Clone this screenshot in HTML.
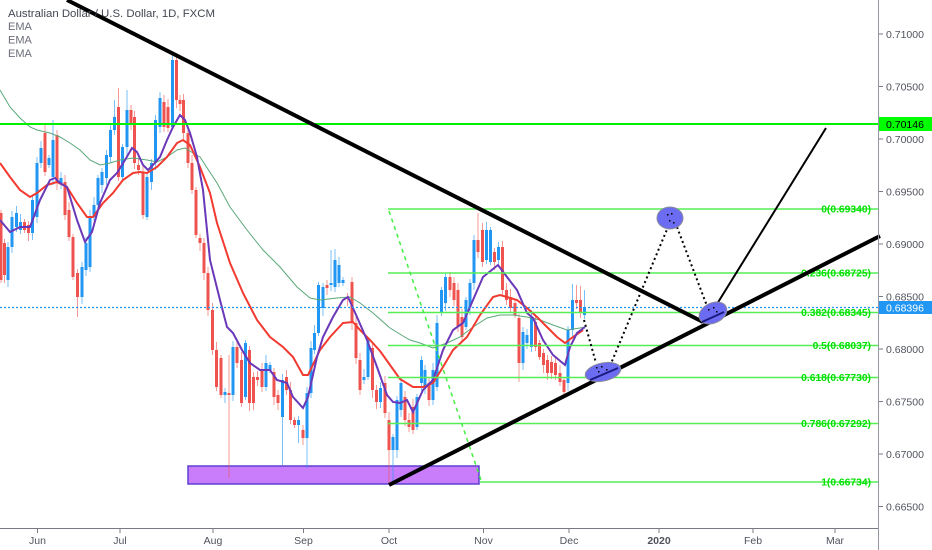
<!DOCTYPE html>
<html><head><meta charset="utf-8">
<style>
html,body{margin:0;padding:0;background:#fff;}
body{width:932px;height:550px;overflow:hidden;}
svg{display:block;font-family:"Liberation Sans",Arial,sans-serif;}
</style></head>
<body>
<svg id="c" width="932" height="550" viewBox="0 0 932 550" xmlns="http://www.w3.org/2000/svg">
<rect x="0" y="0" width="932" height="550" fill="#ffffff"/>
<!-- support rectangle -->
<rect x="188" y="466" width="291" height="18" fill="#c97dfb" stroke="#5b42d0" stroke-width="1.5"/>
<g id="candles"></g>
<!-- EMAs -->
<polyline fill="none" stroke="#5aa77a" stroke-width="1" points="0,90 10,107 20,118 30,127 37,130 50,133 60,137 70,143 80,150 90,160 100,165 110,163 120,160 133,158 147,160 157,162 167,157 177,150 185,148 193,153 200,157 217,183 230,207 247,230 263,250 280,267 297,287 310,298 320,300 337,298 350,297 360,303 373,313 390,328 403,336 410,340 420,343 433,348 447,343 460,337 473,327 487,318 500,315 513,315 527,317 540,320 553,325 567,330 580,328 585,327"/>
<polyline fill="none" stroke="#f23a30" stroke-width="2" points="0,163 10,177 20,190 30,197 37,193 47,185 57,182 67,187 77,203 87,217 93,217 103,203 113,193 123,180 133,173 140,172 147,173 157,167 167,157 177,143 183,140 190,145 200,167 210,193 217,223 230,263 243,293 257,320 270,337 283,347 293,357 303,375 308,375 320,350 330,337 343,323 353,322 360,330 370,340 380,351 390,365 400,379 413,387 423,387 433,383 443,367 453,350 467,337 480,315 493,297 500,295 507,297 517,300 527,308 537,317 547,327 557,337 565,343 573,337 583,330"/>
<polyline fill="none" stroke="#6a38b8" stroke-width="2" points="0,220 10,232 20,227 30,227 40,200 50,180 55,178 60,183 67,187 77,220 85,242 92,232 100,203 110,180 117,173 125,160 132,148 137,152 143,165 148,170 153,165 160,157 167,140 173,127 180,115 185,120 190,133 197,157 203,190 210,260 220,300 227,327 233,333 242,350 250,363 260,370 270,370 277,380 287,383 293,397 303,408 308,397 317,357 323,337 333,317 343,300 348,297 357,317 367,340 377,367 387,395 393,402 400,403 407,400 413,412 423,390 433,380 443,350 453,330 463,323 473,300 483,277 498,265 507,277 517,290 527,313 533,318 543,340 553,355 565,365 570,347 577,333 585,327"/>
<!-- resistance level -->
<line x1="0" y1="124" x2="878" y2="124" stroke="#00f000" stroke-width="2"/>
<!-- current price -->
<line x1="0" y1="307.5" x2="878" y2="307.5" stroke="#2196f3" stroke-width="1.2" stroke-dasharray="2 2"/>
<!-- fib levels -->
<g stroke="#55ee55" stroke-width="1.5">
<line x1="388" y1="209" x2="878" y2="209"/>
<line x1="388" y1="273" x2="878" y2="273"/>
<line x1="388" y1="312.5" x2="878" y2="312.5"/>
<line x1="388" y1="345.5" x2="878" y2="345.5"/>
<line x1="388" y1="377.5" x2="878" y2="377.5"/>
<line x1="388" y1="423.5" x2="878" y2="423.5"/>
<line x1="480" y1="482" x2="878" y2="482"/>
</g>
<line x1="389" y1="211" x2="482" y2="483" stroke="#44ee44" stroke-width="1.5" stroke-dasharray="4 4"/>
<g font-size="10.3" font-weight="bold" fill="#00e000" text-anchor="end">
<text x="871" y="212.7">0(0.69340)</text>
<text x="871" y="276.7">0.236(0.68725)</text>
<text x="871" y="316.2">0.382(0.68345)</text>
<text x="871" y="349.2">0.5(0.68037)</text>
<text x="871" y="381.2">0.618(0.67730)</text>
<text x="871" y="427.2">0.786(0.67292)</text>
<text x="871" y="485.7">1(0.66734)</text>
</g>
<!-- trend lines -->
<line x1="67" y1="0" x2="703" y2="322" stroke="#000" stroke-width="4"/>
<line x1="389" y1="485" x2="880" y2="236" stroke="#000" stroke-width="4"/>
<line x1="717" y1="304" x2="826" y2="128" stroke="#000" stroke-width="2"/>
<!-- projection path -->
<g stroke="#000" stroke-width="2" stroke-dasharray="2 3" fill="none">
<line x1="584" y1="320" x2="596" y2="363"/>
<line x1="610" y1="366" x2="668" y2="227"/>
<line x1="677" y1="227" x2="707" y2="306"/>
</g>
<!-- ellipses -->
<g fill="#6c6cf2" stroke="#8a8a9a" stroke-width="1">
<ellipse cx="603" cy="372" rx="18" ry="9" transform="rotate(-12 603 372)"/>
<ellipse cx="670" cy="218" rx="13" ry="11"/>
<ellipse cx="713" cy="313" rx="14.5" ry="10" transform="rotate(-25 713 313)"/>
</g>
<line x1="590" y1="380" x2="618" y2="368" stroke="#1a1a80" stroke-width="2"/>
<line x1="702" y1="322" x2="724" y2="312" stroke="#1a1a80" stroke-width="2"/>
<g fill="#000">
<rect x="596" y="367" width="1.5" height="1.5"/><rect x="601" y="366" width="1.5" height="1.5"/><rect x="606" y="369" width="1.5" height="1.5"/><rect x="598" y="371" width="1.5" height="1.5"/>
<rect x="667" y="214" width="1.5" height="1.5"/><rect x="671" y="213" width="1.5" height="1.5"/><rect x="669" y="220" width="1.5" height="1.5"/><rect x="673" y="222" width="1.5" height="1.5"/>
<rect x="708" y="309" width="1.5" height="1.5"/><rect x="713" y="307" width="1.5" height="1.5"/><rect x="716" y="311" width="1.5" height="1.5"/>
</g>
<!-- axes -->
<line x1="878.5" y1="0" x2="878.5" y2="550" stroke="#9598a1" stroke-width="1"/>
<line x1="0" y1="528.5" x2="878" y2="528.5" stroke="#787b86" stroke-width="1"/>
<g id="axis" font-size="10.5" fill="#50535e"></g>
<!-- price labels -->
<rect x="879" y="117" width="53" height="14" fill="#00ff00"/>
<text x="886" y="128" font-size="10.5" fill="#000">0.70146</text>
<rect x="879" y="301" width="53" height="13" fill="#2196f3"/>
<text x="886" y="311.5" font-size="10.5" fill="#fff">0.68396</text>
<!-- legend -->
<text x="8" y="17" font-size="11.4" fill="#434651">Australian Dollar / U.S. Dollar, 1D, FXCM</text>
<g font-size="11" fill="#6a6d78">
<text x="8" y="30">EMA</text>
<text x="8" y="43.5">EMA</text>
<text x="8" y="57">EMA</text>
</g>
</svg>
<script>
(function(){
var NS="http://www.w3.org/2000/svg";
var d=[[1,213,280],[4.5,243,275],[8,280,247],[12,247,217],[16.5,227,213],[20.5,230,222],[24.5,222,230],[28.5,225,233],[32.5,233,200],[37,217,163],[41,163,148],[45,133,172,125],[49,165,158],[53,177,140,120],[57,135,183],[61,183,178],[65,182,215],[69,210,237],[73,237,277],[77.5,273,297,0,317],[82,297,267],[86,270,243],[90,267,217],[94,217,205],[98,205,178],[102,185,172],[106.5,178,155],[110.5,157,130],[114.5,130,117,100],[118.5,107,177,88],[122.5,177,147],[127,147,110,90],[131,110,123],[134.5,117,163],[138.5,165,170],[143,173,215],[147,217,177],[151.5,182,163],[155.5,163,120],[160,127,98],[164,102,127],[168,107,128],[172.5,127,60,53],[176.5,60,100,53],[180,100,104],[183.5,100,133],[188,133,163],[192,163,190],[196,190,235],[200,238,243],[204,243,273],[208,273,310],[212.5,310,350],[216.5,350,387],[221,358,395],[225,395,392],[229,393,395,355,478],[233,395,347],[237,347,363],[241.5,360,403],[245.5,397,343],[249.5,350,403],[253.5,377,403],[257.5,377,380],[262,370,387],[266,387,363],[270,370,365],[274,372,397],[278,395,403],[282.5,417,380,0,465],[286.5,377,390],[290.5,390,420],[294.5,420,425],[298.5,425,420,0,443],[303,430,438],[307,438,393,0,468],[311,393,348],[314.5,350,333],[318.5,333,285],[323,308,287],[327,285,288],[331,285,283,250],[335,287,260,249],[339,283,265],[343,283,280],[347.5,297,298],[352,282,323],[356,323,358],[360,360,390],[364,380,377],[368,377,340],[372.5,348,390],[376.5,390,402],[380.5,402,388],[385,383,413],[389,420,450,0,483],[393,450,437,0,483],[397,450,400],[401,410,383],[405,397,420],[409,420,427],[413,407,430],[417,427,397],[421.5,383,360],[425,387,370],[429,383,400],[433,400,370],[437,387,323],[441.5,313,290],[445.5,303,277],[450,277,290],[454,283,300],[458,290,327],[462,317,337],[466,327,300],[470,307,283],[474,283,240],[478,240,252,213],[482.5,230,262],[486.5,260,230],[490.5,262,230],[494.5,252,262],[498.5,260,247],[502.5,247,290],[506.5,290,300],[510.5,297,308],[515,303,315],[519,318,363,0,382],[523,363,332],[527,343,335],[531.5,347,317],[535.5,322,347],[539.5,343,357],[543.5,353,365],[547.5,360,373],[551.5,362,373],[555.5,363,375],[560,373,382],[564,380,392,0,397],[568,383,330],[572.5,330,300,284],[576.5,300,303,285],[580.5,300,313,286],[584.5,315,307,290]];
var g=document.getElementById("candles");
for(var i=0;i<d.length;i++){
 var c=d[i],x=c[0],o=c[1],cl=c[2];
 var top=Math.min(o,cl),bot=Math.max(o,cl);
 var hi=c[3]||(top-(3+(i*7)%6));
 var lo=c[4]||(bot+(3+(i*5)%6));
 var up=cl<o;
 var col=up?"#2196f3":"#ef5350";
 var w=document.createElementNS(NS,"line");
 w.setAttribute("x1",x);w.setAttribute("x2",x);w.setAttribute("y1",hi);w.setAttribute("y2",lo);
 w.setAttribute("stroke",col);w.setAttribute("stroke-opacity","0.6");w.setAttribute("stroke-width","1");
 g.appendChild(w);
 var r=document.createElementNS(NS,"rect");
 var h=Math.max(bot-top,1.2);
 r.setAttribute("x",x-1.5);r.setAttribute("y",top);r.setAttribute("width",3);r.setAttribute("height",h);
 r.setAttribute("fill",col);
 g.appendChild(r);
}
var ax=document.getElementById("axis");
var pl=[["0.71000",34],["0.70500",86.5],["0.70000",139],["0.69500",191.5],["0.69000",244],["0.68500",296.5],["0.68000",349],["0.67500",401.5],["0.67000",454],["0.66500",506.5]];
pl.forEach(function(p){
 var t=document.createElementNS(NS,"line");
 t.setAttribute("x1",879);t.setAttribute("x2",883);t.setAttribute("y1",p[1]);t.setAttribute("y2",p[1]);
 t.setAttribute("stroke","#787b86");ax.appendChild(t);
 var s=document.createElementNS(NS,"text");
 s.setAttribute("x",886);s.setAttribute("y",p[1]+3.8);s.textContent=p[0];ax.appendChild(s);
});
var tl=[["Jun",37.5],["Jul",120],["Aug",213],["Sep",303.5],["Oct",389],["Nov",483.5],["Dec",569],["2020",659],["Feb",753],["Mar",835]];
tl.forEach(function(p){
 var t=document.createElementNS(NS,"line");
 t.setAttribute("x1",p[1]);t.setAttribute("x2",p[1]);t.setAttribute("y1",529);t.setAttribute("y2",533);
 t.setAttribute("stroke","#787b86");ax.appendChild(t);
 var s=document.createElementNS(NS,"text");
 s.setAttribute("x",p[1]);s.setAttribute("y",544);s.setAttribute("text-anchor","middle");
 if(p[0]==="2020"){s.setAttribute("font-weight","bold");}
 s.textContent=p[0];ax.appendChild(s);
});
})();
</script>
</body></html>
